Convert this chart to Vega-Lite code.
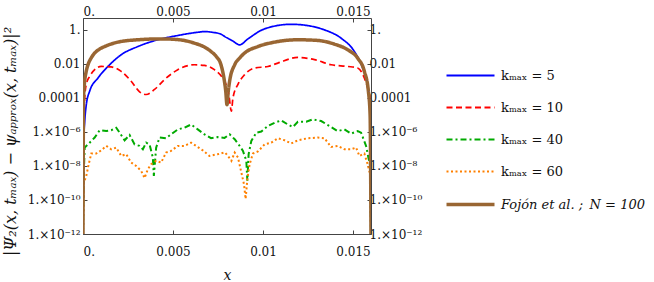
{
  "$schema": "https://vega.github.io/schema/vega-lite/v6.json",
  "width": 288,
  "height": 216,
  "autosize": {"type": "none"},
  "padding": {"left": 83, "top": 18, "right": 283, "bottom": 48},
  "background": "white",
  "config": {
    "view": {"stroke": null},
    "font": "DejaVu Serif",
    "axis": {
      "grid": false,
      "domainColor": "#444",
      "tickColor": "#444",
      "tickSize": -4,
      "labelFont": "DejaVu Serif",
      "labelFontSize": 12,
      "labelColor": "#111",
      "titleFont": "DejaVu Serif",
      "titleFontWeight": "normal",
      "titleFontStyle": "italic",
      "titleFontSize": 14,
      "titleColor": "#111"
    },
    "legend": {
      "labelFont": "DejaVu Serif",
      "labelFontSize": 13,
      "labelColor": "#111",
      "labelLimit": 400
    }
  },
  "datasets": {
    "pts": [
      {"s": "k40", "x": 0, "y": 1e-12},
      {"s": "k40", "x": 0.00004, "y": 3e-9},
      {"s": "k40", "x": 0.000094, "y": 1.2e-7},
      {"s": "k40", "x": 0.000371, "y": 2.34e-7},
      {"s": "k40", "x": 0.000649, "y": 4.68e-7},
      {"s": "k40", "x": 0.000926, "y": 1.26e-6},
      {"s": "k40", "x": 0.001292, "y": 1.12e-6},
      {"s": "k40", "x": 0.001569, "y": 1.26e-6},
      {"s": "k40", "x": 0.001846, "y": 1.78e-6},
      {"s": "k40", "x": 0.002034, "y": 9.12e-7},
      {"s": "k40", "x": 0.002312, "y": 3.24e-7},
      {"s": "k40", "x": 0.002589, "y": 6.61e-7},
      {"s": "k40", "x": 0.002866, "y": 1.86e-7},
      {"s": "k40", "x": 0.003143, "y": 1.51e-7},
      {"s": "k40", "x": 0.003326, "y": 9.55e-8},
      {"s": "k40", "x": 0.003509, "y": 2.34e-7},
      {"s": "k40", "x": 0.003697, "y": 1.86e-7},
      {"s": "k40", "x": 0.00388, "y": 3.16e-8},
      {"s": "k40", "x": 0.003936, "y": 2.63e-9},
      {"s": "k40", "x": 0.004063, "y": 1.2e-7},
      {"s": "k40", "x": 0.004252, "y": 4.68e-7},
      {"s": "k40", "x": 0.004617, "y": 4.27e-7},
      {"s": "k40", "x": 0.004895, "y": 7.24e-7},
      {"s": "k40", "x": 0.005266, "y": 1.41e-6},
      {"s": "k40", "x": 0.005637, "y": 1.78e-6},
      {"s": "k40", "x": 0.006003, "y": 2.75e-6},
      {"s": "k40", "x": 0.006375, "y": 1.41e-6},
      {"s": "k40", "x": 0.006746, "y": 7.24e-7},
      {"s": "k40", "x": 0.007112, "y": 4.27e-7},
      {"s": "k40", "x": 0.007483, "y": 5.01e-7},
      {"s": "k40", "x": 0.00786, "y": 4.47e-7},
      {"s": "k40", "x": 0.008148, "y": 7.24e-7},
      {"s": "k40", "x": 0.008426, "y": 3.72e-7},
      {"s": "k40", "x": 0.008703, "y": 1.51e-7},
      {"s": "k40", "x": 0.008886, "y": 7.76e-8},
      {"s": "k40", "x": 0.009074, "y": 2.0e-8},
      {"s": "k40", "x": 0.00913, "y": 1.35e-9},
      {"s": "k40", "x": 0.009202, "y": 5.01e-8},
      {"s": "k40", "x": 0.009351, "y": 2.95e-7},
      {"s": "k40", "x": 0.009629, "y": 9.12e-7},
      {"s": "k40", "x": 0.009906, "y": 1.05e-6},
      {"s": "k40", "x": 0.010272, "y": 2.24e-6},
      {"s": "k40", "x": 0.010643, "y": 3.47e-6},
      {"s": "k40", "x": 0.011014, "y": 4.79e-6},
      {"s": "k40", "x": 0.01138, "y": 2.75e-6},
      {"s": "k40", "x": 0.011657, "y": 1.95e-6},
      {"s": "k40", "x": 0.011935, "y": 3.98e-6},
      {"s": "k40", "x": 0.0124, "y": 3.98e-6},
      {"s": "k40", "x": 0.012766, "y": 5.5e-6},
      {"s": "k40", "x": 0.013232, "y": 4.37e-6},
      {"s": "k40", "x": 0.013692, "y": 2.24e-6},
      {"s": "k40", "x": 0.014152, "y": 1.12e-6},
      {"s": "k40", "x": 0.014523, "y": 1.41e-6},
      {"s": "k40", "x": 0.014895, "y": 7.94e-7},
      {"s": "k40", "x": 0.01526, "y": 1.12e-6},
      {"s": "k40", "x": 0.015449, "y": 9.12e-7},
      {"s": "k40", "x": 0.015726, "y": 1.51e-7},
      {"s": "k40", "x": 0.015854, "y": 3.16e-8},
      {"s": "k40", "x": 0.01596, "y": 1e-8},
      {"s": "k40", "x": 0.016, "y": 1e-12},

      {"s": "k60", "x": 0, "y": 1e-12},
      {"s": "k60", "x": 0.000055, "y": 1.07e-9},
      {"s": "k60", "x": 0.000183, "y": 2.63e-9},
      {"s": "k60", "x": 0.000316, "y": 1.26e-8},
      {"s": "k60", "x": 0.00046, "y": 5.37e-8},
      {"s": "k60", "x": 0.000737, "y": 5.37e-8},
      {"s": "k60", "x": 0.001014, "y": 8.32e-8},
      {"s": "k60", "x": 0.001292, "y": 1.51e-7},
      {"s": "k60", "x": 0.001569, "y": 9.55e-8},
      {"s": "k60", "x": 0.001846, "y": 1.2e-7},
      {"s": "k60", "x": 0.002123, "y": 3.89e-8},
      {"s": "k60", "x": 0.0024, "y": 4.9e-8},
      {"s": "k60", "x": 0.002677, "y": 1.585e-8},
      {"s": "k60", "x": 0.002955, "y": 1e-8},
      {"s": "k60", "x": 0.003232, "y": 5.13e-9},
      {"s": "k60", "x": 0.00342, "y": 1.95e-9},
      {"s": "k60", "x": 0.003603, "y": 6.46e-9},
      {"s": "k60", "x": 0.003786, "y": 1.26e-8},
      {"s": "k60", "x": 0.004063, "y": 2.0e-8},
      {"s": "k60", "x": 0.00434, "y": 1.585e-8},
      {"s": "k60", "x": 0.004617, "y": 6.17e-8},
      {"s": "k60", "x": 0.004895, "y": 7.76e-8},
      {"s": "k60", "x": 0.005266, "y": 1.51e-7},
      {"s": "k60", "x": 0.005637, "y": 1.51e-7},
      {"s": "k60", "x": 0.006003, "y": 2.34e-7},
      {"s": "k60", "x": 0.00628, "y": 1.51e-7},
      {"s": "k60", "x": 0.006652, "y": 8.32e-8},
      {"s": "k60", "x": 0.007023, "y": 3.89e-8},
      {"s": "k60", "x": 0.007483, "y": 4.9e-8},
      {"s": "k60", "x": 0.00788, "y": 6.31e-8},
      {"s": "k60", "x": 0.008054, "y": 3.89e-8},
      {"s": "k60", "x": 0.008243, "y": 2.0e-8},
      {"s": "k60", "x": 0.008426, "y": 6.17e-8},
      {"s": "k60", "x": 0.008609, "y": 3.16e-8},
      {"s": "k60", "x": 0.008797, "y": 4.17e-9},
      {"s": "k60", "x": 0.008941, "y": 8.71e-10},
      {"s": "k60", "x": 0.009035, "y": 1.15e-10},
      {"s": "k60", "x": 0.00913, "y": 1.7e-9},
      {"s": "k60", "x": 0.009257, "y": 1.26e-8},
      {"s": "k60", "x": 0.00944, "y": 5.37e-8},
      {"s": "k60", "x": 0.009717, "y": 7.08e-8},
      {"s": "k60", "x": 0.010089, "y": 1.86e-7},
      {"s": "k60", "x": 0.01046, "y": 2.34e-7},
      {"s": "k60", "x": 0.010826, "y": 4.27e-7},
      {"s": "k60", "x": 0.011197, "y": 3.24e-7},
      {"s": "k60", "x": 0.011569, "y": 2.09e-7},
      {"s": "k60", "x": 0.011935, "y": 3.24e-7},
      {"s": "k60", "x": 0.012489, "y": 4.27e-7},
      {"s": "k60", "x": 0.013043, "y": 4.68e-7},
      {"s": "k60", "x": 0.013415, "y": 4.27e-7},
      {"s": "k60", "x": 0.013786, "y": 1.32e-7},
      {"s": "k60", "x": 0.014152, "y": 1.51e-7},
      {"s": "k60", "x": 0.014523, "y": 9.55e-8},
      {"s": "k60", "x": 0.014895, "y": 9.55e-8},
      {"s": "k60", "x": 0.015172, "y": 1.2e-7},
      {"s": "k60", "x": 0.015355, "y": 3.89e-8},
      {"s": "k60", "x": 0.015632, "y": 5.37e-8},
      {"s": "k60", "x": 0.015815, "y": 1.26e-8},
      {"s": "k60", "x": 0.01595, "y": 3.16e-9},
      {"s": "k60", "x": 0.016, "y": 1e-12},

      {"s": "k5", "x": 0, "y": 1e-12},
      {"s": "k5", "x": 0.00004, "y": 3e-7},
      {"s": "k5", "x": 0.000094, "y": 3.98e-6},
      {"s": "k5", "x": 0.000183, "y": 3.98e-5},
      {"s": "k5", "x": 0.000371, "y": 2.51e-4},
      {"s": "k5", "x": 0.000831, "y": 1.48e-3},
      {"s": "k5", "x": 0.001386, "y": 7.08e-3},
      {"s": "k5", "x": 0.002123, "y": 0.0347},
      {"s": "k5", "x": 0.003049, "y": 0.105},
      {"s": "k5", "x": 0.004157, "y": 0.263},
      {"s": "k5", "x": 0.005266, "y": 0.468},
      {"s": "k5", "x": 0.006375, "y": 0.724},
      {"s": "k5", "x": 0.006746, "y": 0.794},
      {"s": "k5", "x": 0.0072, "y": 0.72},
      {"s": "k5", "x": 0.007666, "y": 0.562},
      {"s": "k5", "x": 0.007871, "y": 0.407},
      {"s": "k5", "x": 0.0083, "y": 0.23},
      {"s": "k5", "x": 0.008703, "y": 0.132},
      {"s": "k5", "x": 0.009163, "y": 0.295},
      {"s": "k5", "x": 0.010089, "y": 1.148},
      {"s": "k5", "x": 0.011569, "y": 2.138},
      {"s": "k5", "x": 0.0125, "y": 1.778},
      {"s": "k5", "x": 0.013415, "y": 1.0},
      {"s": "k5", "x": 0.01434, "y": 0.324},
      {"s": "k5", "x": 0.015078, "y": 0.0537},
      {"s": "k5", "x": 0.015538, "y": 5.75e-3},
      {"s": "k5", "x": 0.015815, "y": 6.31e-4},
      {"s": "k5", "x": 0.01595, "y": 1e-5},
      {"s": "k5", "x": 0.016, "y": 1e-12},

      {"s": "k10", "x": 0, "y": 1e-12},
      {"s": "k10", "x": 0.00004, "y": 3e-6},
      {"s": "k10", "x": 0.000094, "y": 1e-4},
      {"s": "k10", "x": 0.000183, "y": 6.31e-4},
      {"s": "k10", "x": 0.000371, "y": 1.86e-3},
      {"s": "k10", "x": 0.000649, "y": 4.57e-3},
      {"s": "k10", "x": 0.001014, "y": 7.08e-3},
      {"s": "k10", "x": 0.001569, "y": 6.61e-3},
      {"s": "k10", "x": 0.002123, "y": 3.63e-3},
      {"s": "k10", "x": 0.002677, "y": 9.55e-4},
      {"s": "k10", "x": 0.003143, "y": 2.29e-4},
      {"s": "k10", "x": 0.003509, "y": 1.585e-4},
      {"s": "k10", "x": 0.003974, "y": 3.16e-4},
      {"s": "k10", "x": 0.004529, "y": 1.2e-3},
      {"s": "k10", "x": 0.005266, "y": 4.57e-3},
      {"s": "k10", "x": 0.006192, "y": 8.91e-3},
      {"s": "k10", "x": 0.006746, "y": 8.13e-3},
      {"s": "k10", "x": 0.0073, "y": 4.57e-3},
      {"s": "k10", "x": 0.00776, "y": 1.48e-3},
      {"s": "k10", "x": 0.007943, "y": 6.31e-4},
      {"s": "k10", "x": 0.0081, "y": 1.6e-4},
      {"s": "k10", "x": 0.008243, "y": 1.66e-5},
      {"s": "k10", "x": 0.008331, "y": 1e-4},
      {"s": "k10", "x": 0.008609, "y": 6.31e-4},
      {"s": "k10", "x": 0.00898, "y": 2.34e-3},
      {"s": "k10", "x": 0.009534, "y": 5.75e-3},
      {"s": "k10", "x": 0.010272, "y": 7.08e-3},
      {"s": "k10", "x": 0.010826, "y": 0.0112},
      {"s": "k10", "x": 0.011935, "y": 0.024},
      {"s": "k10", "x": 0.01286, "y": 0.0178},
      {"s": "k10", "x": 0.013786, "y": 8.91e-3},
      {"s": "k10", "x": 0.014706, "y": 7.08e-3},
      {"s": "k10", "x": 0.01526, "y": 5.75e-3},
      {"s": "k10", "x": 0.015632, "y": 1.48e-3},
      {"s": "k10", "x": 0.015854, "y": 2.51e-4},
      {"s": "k10", "x": 0.01596, "y": 6.3e-5},
      {"s": "k10", "x": 0.016, "y": 1e-12},

      {"s": "fojon", "x": 0, "y": 1e-12},
      {"s": "fojon", "x": 0.00003, "y": 1e-4},
      {"s": "fojon", "x": 0.00005, "y": 2.8e-4},
      {"s": "fojon", "x": 0.000094, "y": 1e-3},
      {"s": "fojon", "x": 0.00018, "y": 3.7e-3},
      {"s": "fojon", "x": 0.000277, "y": 8.91e-3},
      {"s": "fojon", "x": 0.00045, "y": 0.022},
      {"s": "fojon", "x": 0.000649, "y": 0.0437},
      {"s": "fojon", "x": 0.0009, "y": 0.072},
      {"s": "fojon", "x": 0.001203, "y": 0.105},
      {"s": "fojon", "x": 0.00194, "y": 0.191},
      {"s": "fojon", "x": 0.003049, "y": 0.263},
      {"s": "fojon", "x": 0.00434, "y": 0.295},
      {"s": "fojon", "x": 0.005266, "y": 0.269},
      {"s": "fojon", "x": 0.006192, "y": 0.166},
      {"s": "fojon", "x": 0.006746, "y": 0.098},
      {"s": "fojon", "x": 0.007112, "y": 0.0537},
      {"s": "fojon", "x": 0.0074, "y": 0.0275},
      {"s": "fojon", "x": 0.007666, "y": 8.91e-3},
      {"s": "fojon", "x": 0.007855, "y": 1e-3},
      {"s": "fojon", "x": 0.00793, "y": 2.5e-4},
      {"s": "fojon", "x": 0.007999, "y": 3.98e-5},
      {"s": "fojon", "x": 0.00807, "y": 2.5e-4},
      {"s": "fojon", "x": 0.008148, "y": 1e-3},
      {"s": "fojon", "x": 0.008426, "y": 8.91e-3},
      {"s": "fojon", "x": 0.0087, "y": 0.022},
      {"s": "fojon", "x": 0.00898, "y": 0.0437},
      {"s": "fojon", "x": 0.009717, "y": 0.105},
      {"s": "fojon", "x": 0.010643, "y": 0.191},
      {"s": "fojon", "x": 0.011935, "y": 0.263},
      {"s": "fojon", "x": 0.013027, "y": 0.24},
      {"s": "fojon", "x": 0.013969, "y": 0.145},
      {"s": "fojon", "x": 0.014706, "y": 0.0676},
      {"s": "fojon", "x": 0.01526, "y": 0.0219},
      {"s": "fojon", "x": 0.015632, "y": 3.63e-3},
      {"s": "fojon", "x": 0.015854, "y": 2.51e-4},
      {"s": "fojon", "x": 0.01595, "y": 1e-5},
      {"s": "fojon", "x": 0.016, "y": 1e-12}
    ]
  },
  "data": {"name": "pts"},
  "encoding": {
    "x": {"field": "x", "type": "quantitative", "scale": {"domain": [0, 0.016], "nice": false, "zero": false}},
    "y": {"field": "y", "type": "quantitative", "scale": {"type": "log", "domain": [1e-12, 5], "nice": false}},
    "color": {
      "field": "s", "type": "nominal",
      "scale": {"domain": ["k5", "k10", "k40", "k60", "fojon"], "range": ["#0000ff", "#ff0000", "#00aa00", "#ff8000", "#996633"]},
      "legend": {
        "title": null, "orient": "none", "legendX": 381, "legendY": 51,
        "symbolType": "M-1.6,0L1.6,0", "symbolSize": 900,
        "rowPadding": 18, "labelOffset": 24, "labelLimit": 400,
        "encode": {
          "labels": {"update": {"fontStyle": {"signal": "datum.value=='fojon' ? 'italic' : 'normal'"}}},
          "symbols": {"update": {"strokeWidth": {"signal": "datum.value=='fojon' ? 3.5 : 2"}}}
        },
        "labelExpr": "datum.value=='k5'?'kₘₐₓ = 5':datum.value=='k10'?'kₘₐₓ = 10':datum.value=='k40'?'kₘₐₓ = 40':datum.value=='k60'?'kₘₐₓ = 60':'Fojón et al. ;\u2002N = 100'"
      }
    },
    "strokeDash": {
      "field": "s", "type": "nominal",
      "scale": {"domain": ["k5", "k10", "k40", "k60", "fojon"], "range": [[1, 0], [6, 3.5], [6, 3, 2, 3], [2, 2.5], [1, 0]]},
      "legend": {
        "title": null, "orient": "none", "legendX": 381, "legendY": 51,
        "symbolType": "M-1.6,0L1.6,0", "symbolSize": 900,
        "rowPadding": 18, "labelOffset": 24, "labelLimit": 400,
        "encode": {
          "labels": {"update": {"fontStyle": {"signal": "datum.value=='fojon' ? 'italic' : 'normal'"}}},
          "symbols": {"update": {"strokeWidth": {"signal": "datum.value=='fojon' ? 3.5 : 2"}}}
        },
        "labelExpr": "datum.value=='k5'?'kₘₐₓ = 5':datum.value=='k10'?'kₘₐₓ = 10':datum.value=='k40'?'kₘₐₓ = 40':datum.value=='k60'?'kₘₐₓ = 60':'Fojón et al. ;\u2002N = 100'"
      }
    }
  },
  "layer": [
    {
      "transform": [{"filter": "datum.s=='k40' || datum.s=='k60'"}],
      "mark": {"type": "line", "clip": true, "interpolate": "linear", "strokeWidth": 2},
      "encoding": {
        "x": {"field": "x", "type": "quantitative", "title": "x",
          "axis": {"orient": "bottom", "values": [0, 0.005, 0.01, 0.015], "tickSize": -4, "labelPadding": 16,
            "labelFont": "DejaVu Serif", "labelFontSize": 12,
            "titleY": 45, "titleBaseline": "alphabetic",
            "labelExpr": "datum.value===0 ? '0.' : format(datum.value, '~g')"}},
        "y": {"field": "y", "type": "quantitative", "title": "|Ψ₂(x, tₘₐₓ) − ψₐₚₚᵣₒₓ(x, tₘₐₓ)|²",
          "axis": {"orient": "left", "values": [1e-12, 1e-10, 1e-8, 1e-6, 1e-4, 1e-2, 1], "tickSize": -4, "labelPadding": 7,
            "labelFont": "DejaVu Serif", "labelFontSize": 12, "titleFontSize": 16,
            "titleX": -73, "titleY": 123, "titleAlign": "center", "titleBaseline": "middle",
            "labelExpr": "datum.value==1 ? '1.' : datum.value>=0.0001 ? format(datum.value,'~g') : (round(log(datum.value)/LN10)==-6 ? '1.×10⁻⁶' : round(log(datum.value)/LN10)==-8 ? '1.×10⁻⁸' : round(log(datum.value)/LN10)==-10 ? '1.×10⁻¹⁰' : '1.×10⁻¹²')"}}
      }
    },
    {
      "transform": [{"filter": "datum.s=='k5' || datum.s=='k10'"}],
      "mark": {"type": "line", "clip": true, "interpolate": "monotone", "strokeWidth": 1.7},
      "encoding": {
        "x": {"field": "x", "type": "quantitative",
          "axis": {"orient": "top", "title": null, "values": [0, 0.005, 0.01, 0.015], "tickSize": -4, "labelPadding": 4,
            "labelFont": "DejaVu Serif", "labelFontSize": 12,
            "labelExpr": "datum.value===0 ? '0.' : format(datum.value, '~g')"}},
        "y": {"field": "y", "type": "quantitative",
          "axis": {"orient": "right", "title": null, "values": [1e-12, 1e-10, 1e-8, 1e-6, 1e-4, 1e-2, 1], "tickSize": -4, "labelPadding": 2,
            "labelFont": "DejaVu Serif", "labelFontSize": 12,
            "labelExpr": "datum.value==1 ? '1.' : datum.value>=0.0001 ? format(datum.value,'~g') : (round(log(datum.value)/LN10)==-6 ? '1.×10⁻⁶' : round(log(datum.value)/LN10)==-8 ? '1.×10⁻⁸' : round(log(datum.value)/LN10)==-10 ? '1.×10⁻¹⁰' : '1.×10⁻¹²')"}}
      }
    },
    {
      "transform": [{"filter": "datum.s=='fojon'"}],
      "mark": {"type": "line", "clip": true, "interpolate": "monotone", "strokeWidth": 3.5},
      "encoding": {
        "x": {"field": "x", "type": "quantitative", "axis": null},
        "y": {"field": "y", "type": "quantitative", "axis": null}
      }
    }
  ]
}
